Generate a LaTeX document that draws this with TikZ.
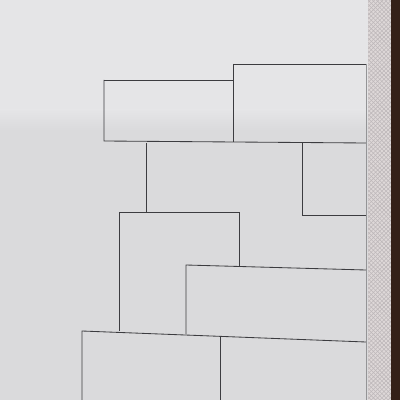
\documentclass[tikz,border=0pt]{standalone}
\usetikzlibrary{patterns}
\definecolor{paper}{RGB}{218,218,220}
\definecolor{paperlight}{RGB}{229,229,231}
\definecolor{strip}{RGB}{222,216,216}
\definecolor{hatch}{RGB}{190,184,186}
\definecolor{wood}{RGB}{52,32,24}
\definecolor{lead}{RGB}{60,60,64}
\begin{document}
\begin{tikzpicture}[x=0.025cm, y=-0.025cm, pencil/.style={draw=lead, line width=0.6pt}, faint/.style={draw=lead!55, line width=0.35pt}]
        \useasboundingbox (0,0) rectangle (400,400);
        \fill[paper] (0,0) rectangle (400,400);
        \fill[paperlight] (0,0) rectangle (368,110);
        \shade[top color=paperlight, bottom color=paper] (0,110) rectangle (368,130);
        \fill[strip] (368,0) rectangle (391,400);
        \fill[pattern=crosshatch, pattern color=hatch] (368,0) rectangle (391,400);
        \fill[wood] (391,0) rectangle (400,400);

        \draw[pencil] (104,80) -- (233,80);
        \draw[pencil] (104,80) -- (104,141) -- (366,143);
        \draw[pencil] (233,64) -- (366,64);
        \draw[pencil] (233,64) -- (233,142);
        \draw[faint] (366,64) -- (366,400);

        \draw[pencil] (146,143) -- (146,212);
        \draw[pencil] (302,143) -- (302,215) -- (366,215);

        \draw[pencil] (119,331) -- (119,212) -- (239,212) -- (239,266);
        \draw[pencil] (186,334) -- (186,265) -- (366,270);

        \draw[pencil] (82,400) -- (82,331) -- (366,342);
        \draw[pencil] (220,337) -- (220,400);
    \end{tikzpicture}
\end{document}
